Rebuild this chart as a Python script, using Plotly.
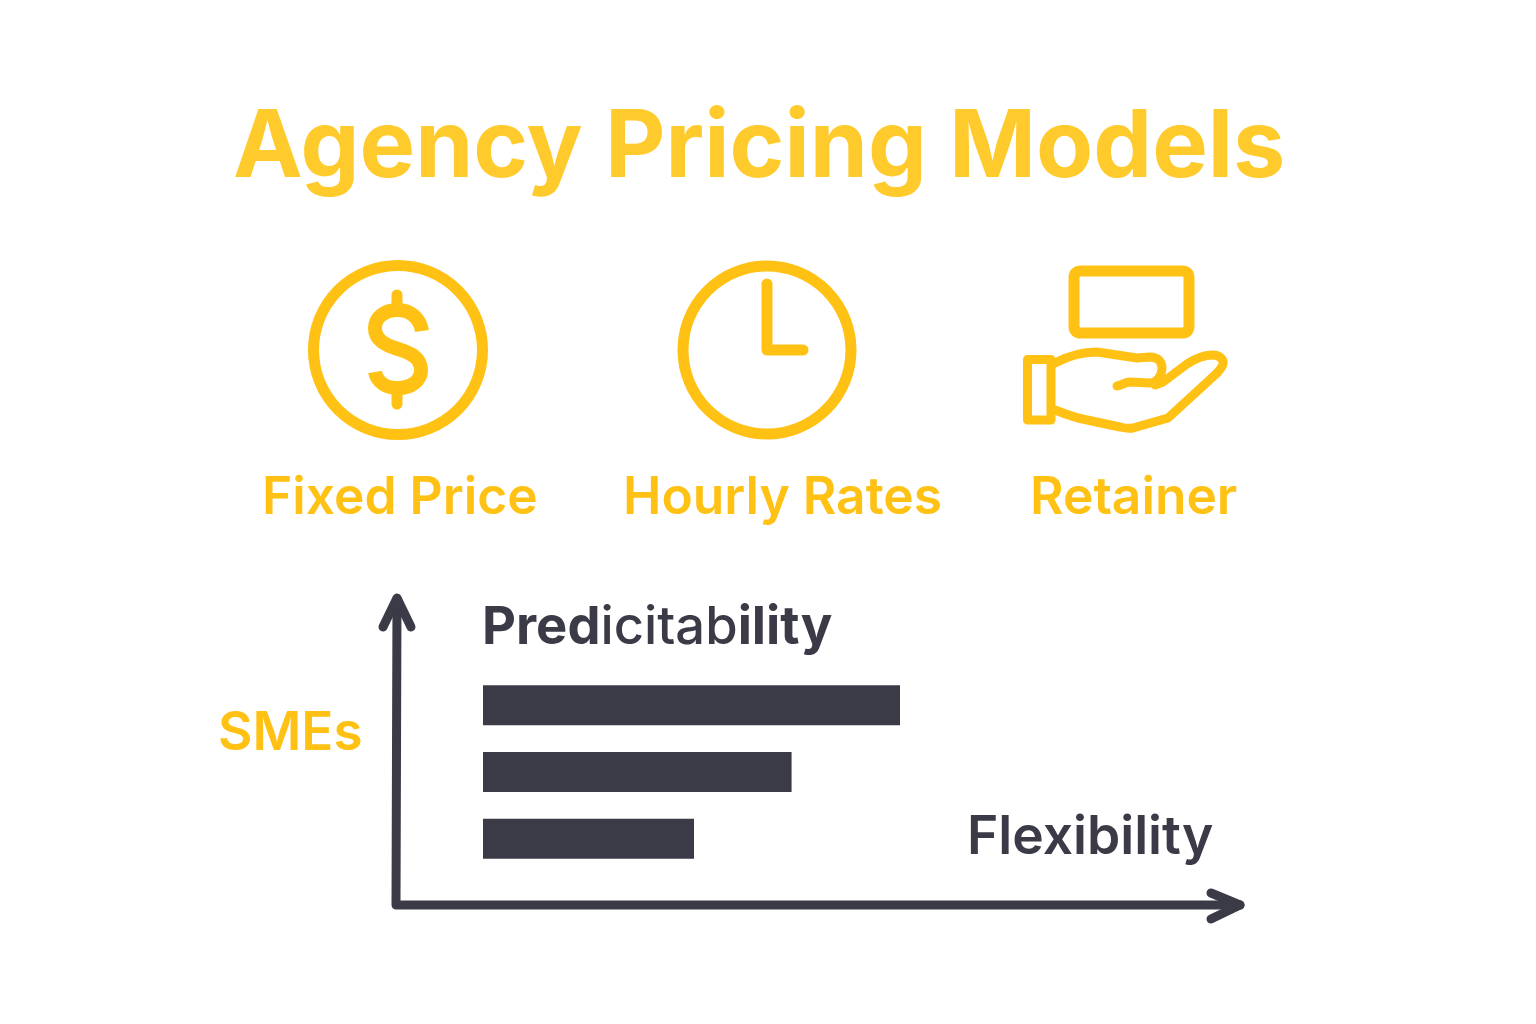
import plotly.graph_objects as go

AMBER = '#FFC114'
TITLE_AMBER = '#FFCB2C'
DARK = '#3B3B48'

title = 'Agency Pricing Models'
models = ['Fixed Price', 'Hourly Rates', 'Retainer']
bar_rows = ['Fixed Price', 'Hourly Rates', 'Retainer']
bar_values = [100, 74, 50.6]

fig = go.Figure()

# bars sit on their own axes, lined up with the hand drawn arrows
fig.add_trace(go.Bar(x=bar_values, y=bar_rows, orientation='h', xaxis='x2', yaxis='y2',
                     marker=dict(color=DARK, line_width=0), width=0.6,
                     hoverinfo='skip', showlegend=False))


def stroke(path, color=AMBER, width=11, layer='above'):
    fig.add_shape(type='path', path=path, xref='x', yref='y', layer=layer,
                  line=dict(color=color, width=width), fillcolor='rgba(0,0,0,0)')


def text(label, x, y, size, color=AMBER, weight=600):
    fig.add_annotation(text=label, x=x, y=y, xref='x', yref='y', showarrow=False,
                       xanchor='center', yanchor='middle',
                       font=dict(family='Inter', size=size, color=color, weight=weight))


# coin
fig.add_shape(type='circle', x0=313.5, x1=482.5, y0=265.5, y1=434.5, xref='x', yref='y',
              line=dict(color=AMBER, width=11))
stroke('M 422,331 C 420,318 410,310 398,310 C 385,310 375,317 375,328 C 375,340 385,345 398,349 '
       'C 411,353 421,358 421,370 C 421,381 411,388 398,388 C 386,388 377,382 375,372',
       width=14, layer='below')
stroke('M 397,295 L 397,308', width=11)
stroke('M 397,390 L 397,404', width=11)

# clock
fig.add_shape(type='circle', x0=683, x1=851, y0=266, y1=434, xref='x', yref='y',
              line=dict(color=AMBER, width=11))
stroke('M 767,284 L 767,350 L 803,350', width=11)

# hand and card
stroke('M 1081,271 L 1182,271 Q 1189,271 1189,278 L 1189,326 Q 1189,333 1182,333 L 1081,333 '
       'Q 1074,333 1074,326 L 1074,278 Q 1074,271 1081,271 Z', width=11)
stroke('M 1027.5,359.5 L 1051,359.5 L 1051,420 L 1027.5,420 Z', width=9)
stroke('M 1055,363 C 1068,356 1084,352 1097,352 L 1137,358 L 1150,357 C 1158,357 1162,362 1162,368 '
       'C 1162,375 1157,383 1150,383 L 1130,382 C 1125,382 1122,385 1117,386', width=9)
stroke('M 1155,385 L 1163,382 L 1187,364 C 1196,358 1205,355 1213,355 C 1220,355 1224,360 1223,364 '
       'C 1222,368 1219,371 1216,374 L 1168,418 L 1133,428 C 1128,429 1124,428 1120,427 '
       'L 1087,420 C 1076,418 1065,414 1055,410', width=9)

# arrows
stroke('M 397,600 L 396,905 L 1240,905', color=DARK, width=9)
stroke('M 383,627 L 397,598 L 411,627', color=DARK, width=9)
stroke('M 1211,893 L 1240,905 L 1211,919', color=DARK, width=9)

# labels
text(title, 759, 143, 93.4, color=TITLE_AMBER, weight=700)
for label, cx in zip(models, [400, 782.5, 1133]):
    text(label, cx, 495, 51.5)
text('SMEs', 290.5, 731, 53)
text('<b>Pred</b>icitab<b>ility</b>', 657, 625, 52.5, color=DARK, weight=500)
text('Flexibility', 1090, 834, 53.3, color=DARK)

fig.update_layout(
    width=1536, height=1024, margin=dict(l=0, r=0, t=0, b=0),
    paper_bgcolor='white', plot_bgcolor='white', showlegend=False,
    xaxis=dict(range=[0, 1536], visible=False, domain=[0, 1]),
    yaxis=dict(range=[1024, 0], visible=False, domain=[0, 1]),
    xaxis2=dict(range=[0, 100], domain=[483 / 1536, 900 / 1536], visible=False, anchor='y2'),
    yaxis2=dict(domain=[(1024 - 872) / 1024, (1024 - 672) / 1024], visible=False, anchor='x2',
                categoryorder='array', categoryarray=bar_rows[::-1]),
)

fig.write_html('out.html', config={'displayModeBar': False}, post_script="""
document.body.style.margin = '0';
document.querySelectorAll('.layer-above .shapelayer path').forEach(function (p) {
  p.style.strokeLinecap = 'round';
  p.style.strokeLinejoin = 'round';
});
""")
